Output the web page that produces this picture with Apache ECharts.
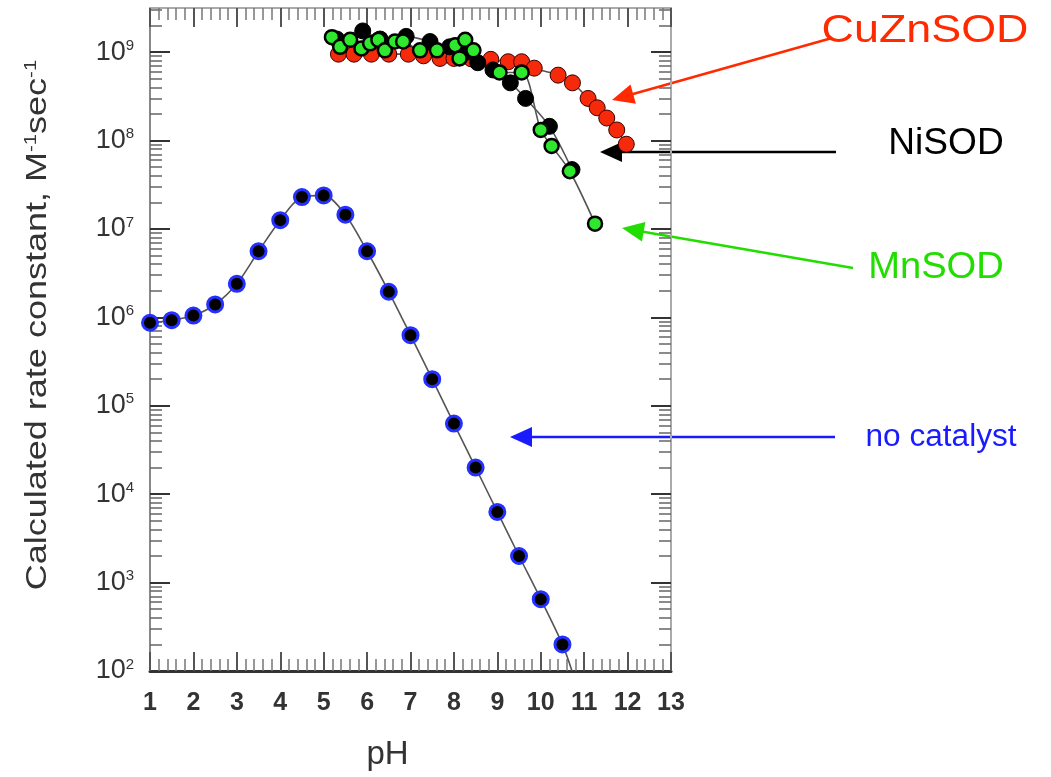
<!DOCTYPE html>
<html>
<head>
<meta charset="utf-8">
<script src="https://cdn.jsdelivr.net/npm/echarts@6/dist/echarts.min.js"></script>
<style>
    html, body { margin: 0; padding: 0; background: #fff; }
    #chart { width: 1051px; height: 777px; }
</style>
</head>
<body>
<div id="chart"></div>
<script>
    // rate constants (M^-1 s^-1) against pH
    var noCatPH = [1, 1.5, 2, 2.5, 3, 3.5, 4, 4.5, 5, 5.5, 6, 6.5, 7, 7.5, 8, 8.5, 9, 9.5, 10, 10.5];
    var noCatK = [8.7e5, 9.3e5, 1.05e6, 1.4e6, 2.4e6, 5.6e6, 1.26e7, 2.3e7, 2.4e7, 1.45e7, 5.6e6, 1.95e6,
        6.3e5, 2.0e5, 6.3e4, 2.0e4, 6.3e3, 2.0e3, 6.5e2, 2.0e2];
    // the no catalyst curve runs on to the bottom of the plot
    var noCatCurveEndPH = 10.72;
    var noCatCurveEndK = 1.0e2;

    var cuznPH = [5.34, 5.7, 6.1, 6.5, 6.95, 7.3, 7.68, 8.0, 8.4, 8.85, 9.25, 9.56, 9.85, 10.4, 10.73, 11.09, 11.3, 11.52, 11.75, 11.97];
    var cuznK = [9.5e8, 9.5e8, 9.5e8, 9.5e8, 9.5e8, 9.1e8, 8.5e8, 8.5e8, 8.4e8, 8.3e8, 7.8e8, 7.8e8, 6.6e8,
        5.5e8, 4.5e8, 3.0e8, 2.35e8, 1.8e8, 1.32e8, 9.1e7];

    var niPH = [5.3, 5.9, 6.3, 6.9, 7.45, 7.9, 8.3, 8.55, 8.9, 9.3, 9.65, 10.2, 10.72];
    var niK = [1.41e9, 1.74e9, 1.41e9, 1.51e9, 1.32e9, 1.15e9, 1.0e9, 7.6e8, 6.3e8, 4.5e8, 3.0e8, 1.45e8, 4.7e7];

    var mnPH = [5.19, 5.38, 5.61, 5.87, 6.07, 6.26, 6.41, 6.64, 6.83, 7.22, 7.61, 8.03, 8.13, 8.26, 8.45,
        9.05, 9.56, 10.0, 10.25, 10.67, 11.25];
    var mnK = [1.48e9, 1.15e9, 1.38e9, 1.10e9, 1.26e9, 1.38e9, 1.05e9, 1.32e9, 1.32e9, 1.05e9, 1.05e9, 1.20e9,
        8.5e8, 1.38e9, 1.05e9, 5.9e8, 5.9e8, 1.32e8, 8.7e7, 4.5e7, 1.15e7];

    // axis ticks: decades shown as 10^n
    var yExponents = [2, 3, 4, 5, 6, 7, 8, 9];
    var xTicks = [1, 2, 3, 4, 5, 6, 7, 8, 9, 10, 11, 12, 13];

    var FONT = 'Liberation Sans, Arial, sans-serif';

    // y axis is log10 of the rate constant
    function toPoints(ph, k) {
        return ph.map(function (p, i) { return [p, Math.log10(k[i])]; });
    }

    var minorY = [];
    for (var n = 2; n <= 9; n++) {
        for (var m = 2; m <= 9; m++) {
            var v = n + Math.log10(m);
            if (v < 9.5) minorY.push(v);
        }
    }

    function yAxisDef(pos, major) {
        return {
            type: 'value',
            min: 2,
            max: 9.5,
            position: pos,
            axisLine: { show: major, lineStyle: { color: pos === 'left' ? '#888' : '#aaa', width: 2 } },
            axisTick: {
                show: true,
                inside: true,
                length: major ? 20 : 12,
                customValues: major ? yExponents : minorY,
                lineStyle: { color: major ? '#333' : '#666', width: major ? 2 : 1.5 }
            },
            axisLabel: {
                show: major && pos === 'left',
                customValues: yExponents,
                margin: 16,
                formatter: function (v) { return '{b|10}{s|' + v + '}'; },
                rich: {
                    b: { fontSize: 27, color: '#333', fontFamily: FONT },
                    s: { fontSize: 15, color: '#333', fontFamily: FONT, padding: [0, 0, 13, 0] }
                }
            },
            splitLine: { show: false }
        };
    }

    function xAxisDef(pos) {
        var bottom = pos === 'bottom';
        return {
            type: 'value',
            min: 1,
            max: 13,
            interval: 1,
            position: pos,
            axisLine: { show: true, lineStyle: { color: bottom ? '#333' : '#aaa', width: bottom ? 3 : 2 } },
            axisTick: { show: true, inside: true, length: 19, lineStyle: { color: '#555', width: 2 } },
            minorTick: { show: true, splitNumber: 5, length: 12, lineStyle: { color: '#777', width: 1.5 } },
            axisLabel: {
                show: bottom,
                customValues: xTicks,
                fontSize: 25,
                fontWeight: 'bold',
                color: '#333',
                fontFamily: FONT,
                margin: 20
            },
            splitLine: { show: false },
            name: bottom ? 'pH' : '',
            nameLocation: 'middle',
            nameGap: 67,
            nameTextStyle: { fontSize: 33, color: '#333', fontFamily: FONT, padding: [0, 46, 0, 0] }
        };
    }

    function arrow(tail, tip, color) {
        var dx = tip[0] - tail[0], dy = tip[1] - tail[1];
        var len = Math.sqrt(dx * dx + dy * dy);
        var ux = dx / len, uy = dy / len, hl = 22, hw = 10;
        var bx = tip[0] - ux * hl, by = tip[1] - uy * hl;
        return [
            { type: 'line', shape: { x1: tail[0], y1: tail[1], x2: bx + ux * 2, y2: by + uy * 2 }, style: { stroke: color, lineWidth: 2.5 } },
            { type: 'polygon', shape: { points: [tip, [bx - uy * hw, by + ux * hw], [bx + uy * hw, by - ux * hw]] }, style: { fill: color } }
        ];
    }

    function label(text, x, y, color, size, sx) {
        return {
            type: 'text', x: x, y: y, scaleX: sx,
            style: { text: text, fill: color, fontSize: size, fontFamily: FONT, textAlign: 'center', textVerticalAlign: 'middle' }
        };
    }

    var graphics = [].concat(
        arrow([832, 38], [612, 100], '#ff2a00'),
        arrow([836, 152], [600, 152], '#000'),
        arrow([853, 268], [622, 228], '#22dd00'),
        arrow([835, 437], [510, 437], '#1a1aff'),
        [
            label('CuZnSOD', 925, 31, '#ff2a00', 39, 1.15),
            label('NiSOD', 946, 144, '#000', 36, 1.03),
            label('MnSOD', 936, 268, '#22dd00', 36, 1.06),
            label('no catalyst', 941, 437, '#1a1aff', 31, 1.02),
            {
                type: 'text', x: 38, y: 325, rotation: Math.PI / 2, scaleX: 1.2,
                style: {
                    text: 'Calculated rate constant, M{s|-1}sec{s|-1}',
                    fill: '#333', fontSize: 30, fontFamily: FONT, textAlign: 'center', textVerticalAlign: 'middle',
                    rich: { s: { fontSize: 17, fill: '#333', fontFamily: FONT, padding: [0, 0, 14, 0] } }
                }
            }
        ]
    );

    function curve(data) {
        return {
            type: 'line', data: data, showSymbol: false, smooth: 0.3, z: 1,
            lineStyle: { color: '#555', width: 1.6 }
        };
    }

    function dots(data, fill, border, bw, size) {
        return {
            type: 'scatter', data: data, symbol: 'circle', symbolSize: size, z: 3,
            itemStyle: { color: fill, borderColor: border, borderWidth: bw, opacity: 1 }
        };
    }

    var noCatPts = toPoints(noCatPH, noCatK);
    var noCatCurve = noCatPts.concat([[noCatCurveEndPH, Math.log10(noCatCurveEndK)]]);
    var cuznPts = toPoints(cuznPH, cuznK);
    var niPts = toPoints(niPH, niK);
    var mnPts = toPoints(mnPH, mnK);

    var chart = echarts.init(document.getElementById('chart'));
    chart.setOption({
        animation: false,
        backgroundColor: '#fff',
        grid: { left: 150, right: 380, top: 8, bottom: 106 },
        xAxis: [xAxisDef('bottom'), xAxisDef('top')],
        yAxis: [yAxisDef('left', true), yAxisDef('left', false), yAxisDef('right', true), yAxisDef('right', false)],
        series: [
            curve(noCatCurve),
            curve(cuznPts),
            curve(niPts),
            curve(mnPts),
            dots(cuznPts, '#f42a0a', '#3a0000', 1, 16),
            dots(niPts, '#000', '#000', 1, 16),
            dots(mnPts, '#2de82d', '#000', 2.5, 14),
            dots(noCatPts, '#000', '#2430ff', 3, 15)
        ],
        graphic: graphics
    });
</script>
</body>
</html>
